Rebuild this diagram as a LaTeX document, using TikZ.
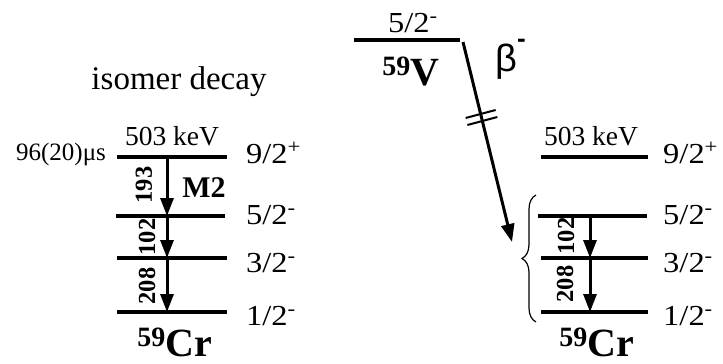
\documentclass[tikz,border=0pt]{standalone}
\usepackage{fontspec}
\setmainfont{Liberation Serif}
\newfontfamily\betafont{Liberation Sans}
\usetikzlibrary{arrows.meta,decorations.pathreplacing}
\begin{document}
\begin{tikzpicture}[x=1pt,y=-1pt,
  level/.style={line width=3.6pt},
  trans/.style={line width=3pt,-{Triangle[length=18pt,width=13pt]}},
  lbl/.style={inner sep=0pt,anchor=base,font=\fontsize{27.5}{30}\selectfont},
  spin/.style={inner sep=0pt,anchor=base west,xscale=1.12,font=\fontsize{29}{31}\selectfont},
  egam/.style={inner sep=0pt,rotate=90,font=\bfseries\fontsize{24.5}{28}\selectfont},
  nuc/.style={inner sep=0pt,anchor=base,font=\bfseries\fontsize{40}{44}\selectfont},
]
\useasboundingbox (0,0) rectangle (723,364);

% ---------- left: isomer decay ----------
\node[inner sep=0pt,anchor=base,font=\fontsize{33}{36}\selectfont] (isomer) at (179,89) {isomer decay};

\coordinate (La9) at (117,157); \coordinate (Lb9) at (227,157);
\coordinate (La5) at (116,216); \coordinate (Lb5) at (225,216);
\coordinate (La3) at (117,258); \coordinate (Lb3) at (227,258);
\coordinate (La1) at (117,312); \coordinate (Lb1) at (227,312);
\draw[level] (La9) -- (Lb9);
\draw[level] (La5) -- (Lb5);
\draw[level] (La3) -- (Lb3);
\draw[level] (La1) -- (Lb1);

\coordinate (Lg9) at (167,157);
\coordinate (Lg5) at (167,216);
\coordinate (Lg3) at (167,258);
\coordinate (Lg1) at (167,312);
\draw[trans] (Lg9) -- (Lg5);
\draw[trans] (Lg5) -- (Lg3);
\draw[trans] (Lg3) -- (Lg1);

\node[lbl] (eL) at (172,145) {503 keV};
\node[inner sep=0pt,anchor=base,font=\fontsize{25}{28}\selectfont] (half) at (61,160) {96(20)μs};
\node[inner sep=0pt,anchor=base,font=\bfseries\fontsize{30}{32}\selectfont] (m2) at (204,197) {M2};

\node[spin] (sL9) at (246,163) {9/2\textsuperscript{+}};
\node[spin] (sL5) at (246,224) {5/2\textsuperscript{-}};
\node[spin] (sL3) at (246,272) {3/2\textsuperscript{-}};
\node[spin] (sL1) at (246,325) {1/2\textsuperscript{-}};

\node[egam] (gL1) at (144,185) {193};
\node[egam] (gL2) at (147,237) {102};
\node[egam] (gL3) at (147,286) {208};

\node[nuc] (crL) at (175,356) {\textsuperscript{59}Cr};

% ---------- top: 59V ----------
\coordinate (Va) at (354,40); \coordinate (Vb) at (460,40);
\draw[level] (Va) -- (Vb);
\node[spin] (sV) at (388,32) {5/2\textsuperscript{-}};
\node[nuc] (nV) at (411,85) {\textsuperscript{59}V};
\node[inner sep=0pt,anchor=base west,font=\betafont\fontsize{38}{40}\selectfont] (beta) at (495,71)
  {β\raisebox{0.62em}{\bfseries\fontsize{26}{26}\selectfont -}};

\coordinate (bs) at (463,42);
\coordinate (be) at (512,242);
\draw[trans] (bs) -- (be);
\path (bs) -- (be) coordinate[pos=0.36] (m1) coordinate[pos=0.395] (m2c);
\draw[line width=2pt] ([shift={(-15,4)}]m1) -- ([shift={(15,-4)}]m1);
\draw[line width=2pt] ([shift={(-15,4)}]m2c) -- ([shift={(15,-4)}]m2c);

% ---------- right: beta decay daughter ----------
\coordinate (Ra9) at (541,157); \coordinate (Rb9) at (648,157);
\coordinate (Ra5) at (538,216); \coordinate (Rb5) at (647,216);
\coordinate (Ra3) at (541,258); \coordinate (Rb3) at (648,258);
\coordinate (Ra1) at (541,312); \coordinate (Rb1) at (648,312);
\draw[level] (Ra9) -- (Rb9);
\draw[level] (Ra5) -- (Rb5);
\draw[level] (Ra3) -- (Rb3);
\draw[level] (Ra1) -- (Rb1);

\coordinate (Rg5) at (590,216);
\coordinate (Rg3) at (590,258);
\coordinate (Rg1) at (590,312);
\draw[trans] (Rg5) -- (Rg3);
\draw[trans] (Rg3) -- (Rg1);

\node[lbl] (eR) at (591,145) {503 keV};
\node[spin] (sR9) at (663,163) {9/2\textsuperscript{+}};
\node[spin] (sR5) at (663,224) {5/2\textsuperscript{-}};
\node[spin] (sR3) at (663,272) {3/2\textsuperscript{-}};
\node[spin] (sR1) at (663,325) {1/2\textsuperscript{-}};

\node[egam] (gR2) at (566,236) {102};
\node[egam] (gR3) at (565,284) {208};

\coordinate (brB) at (536,322);
\coordinate (brT) at (536,195);
\draw[line width=1.2pt,decorate,decoration={brace,amplitude=14pt}] (brB) -- (brT);

\node[nuc] (crR) at (597,356) {\textsuperscript{59}Cr};
\end{tikzpicture}
\end{document}
